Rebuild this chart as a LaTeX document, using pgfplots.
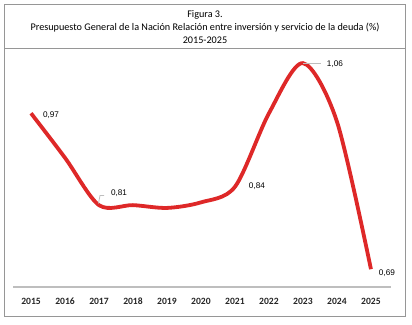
\documentclass[border=0pt]{standalone}
\usepackage{pgfplots}
\pgfplotsset{compat=1.18}
\usepackage{fontspec}
\setmainfont{Carlito}
\newfontfamily\lab{Liberation Sans}
\definecolor{lred}{RGB}{222,40,40}
\definecolor{axgray}{RGB}{190,190,190}
\definecolor{bordgray}{RGB}{150,150,150}
\begin{document}
\begin{tikzpicture}
\useasboundingbox (0bp,0bp) rectangle (412bp,325bp);
\draw[bordgray,line width=1bp] (4bp,320bp) rectangle (405bp,8bp);
\draw[bordgray,line width=0.8bp] (4bp,277bp) -- (405bp,277bp);
\node[font=\fontsize{10.2bp}{11bp}\selectfont] at (205bp,310bp) {Figura 3.};
\node[font=\fontsize{10.2bp}{11bp}\selectfont] at (205bp,297.5bp) {Presupuesto General de la Nación Relación entre inversión y servicio de la deuda (\%)};
\node[font=\fontsize{10.2bp}{11bp}\selectfont] at (205bp,285bp) {2015-2025};
\begin{axis}[
  at={(13bp,38bp)}, anchor=south west,
  width=378bp, height=235bp, scale only axis,
  xmin=2014.47, xmax=2025.59, ymin=0.658, ymax=1.08,
  axis x line*=bottom, axis y line=none,
  x axis line style={axgray, line width=2.2bp, -},
  xtick={2015,...,2025},
  xticklabels={2015,2016,2017,2018,2019,2020,2021,2022,2023,2024,2025},
  major tick length=0pt,
  xticklabel style={font=\fontsize{9.6bp}{10bp}\selectfont\bfseries, text=black!85, yshift=-7.5bp},
  clip=false,
]
\addplot[lred, line width=3.8bp, smooth, tension=0.5] coordinates {
(2015,0.97) (2016,0.89) (2017,0.805) (2018,0.805) (2019,0.80) (2020,0.81) (2021,0.838) (2022,0.97) (2023,1.06) (2024,0.955) (2025,0.69)
};
\draw[axgray, line width=0.8bp] ([xshift=-0.5bp]axis cs:2017,0.808) -- ([xshift=1bp,yshift=8bp]axis cs:2017,0.808) -- ([xshift=5bp,yshift=8bp]axis cs:2017,0.808);
\draw[axgray, line width=0.8bp] (axis cs:2023,1.06) -- ([xshift=18bp]axis cs:2023,1.06);
\node[font=\lab\fontsize{8.2bp}{9bp}\selectfont] at ([xshift=20bp,yshift=-2bp]axis cs:2015,0.97) {0,97};
\node[font=\lab\fontsize{8.2bp}{9bp}\selectfont] at ([xshift=20bp,yshift=9bp]axis cs:2017,0.81) {0,81};
\node[font=\lab\fontsize{8.2bp}{9bp}\selectfont] at ([xshift=22bp,yshift=1bp]axis cs:2021,0.838) {0,84};
\node[font=\lab\fontsize{8.2bp}{9bp}\selectfont] at ([xshift=32bp,yshift=-1bp]axis cs:2023,1.06) {1,06};
\node[font=\lab\fontsize{8.2bp}{9bp}\selectfont] at ([xshift=16bp,yshift=-4bp]axis cs:2025,0.69) {0,69};
\end{axis}
\end{tikzpicture}
\end{document}
